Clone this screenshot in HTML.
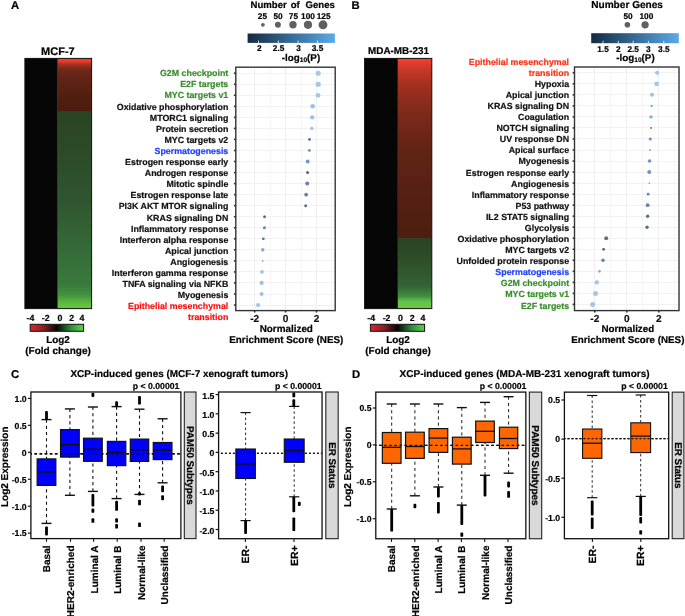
<!DOCTYPE html>
<html><head><meta charset="utf-8"><title>Figure</title>
<style>
html,body{margin:0;padding:0;background:#fff;overflow:hidden;}
svg{display:block;will-change:transform;text-rendering:geometricPrecision;}
text{stroke-width:0.2px;}
svg{font-family:"Liberation Sans", sans-serif;}
</style></head><body>
<svg width="685" height="616" viewBox="0 0 685 616" font-family='&quot;Liberation Sans&quot;, sans-serif'><defs><linearGradient id="hra" x1="0" y1="0" x2="0" y2="1"><stop offset="0" stop-color="#f23c2c"/><stop offset="0.063" stop-color="#e83a2a"/><stop offset="0.095" stop-color="#b83424"/><stop offset="0.15" stop-color="#8e2e1e"/><stop offset="0.23" stop-color="#6e2818"/><stop offset="0.38" stop-color="#602416"/><stop offset="0.67" stop-color="#54200f"/><stop offset="1" stop-color="#4a1c10"/></linearGradient><linearGradient id="hga" x1="0" y1="0" x2="0" y2="1"><stop offset="0" stop-color="#2a4422"/><stop offset="0.2" stop-color="#2c4a26"/><stop offset="0.45" stop-color="#2f5530"/><stop offset="0.7" stop-color="#356a38"/><stop offset="0.88" stop-color="#3a7a3c"/><stop offset="0.93" stop-color="#44903f"/><stop offset="0.96" stop-color="#55b040"/><stop offset="0.98" stop-color="#62c040"/><stop offset="1" stop-color="#6cc444"/></linearGradient><linearGradient id="hrb" x1="0" y1="0" x2="0" y2="1"><stop offset="0" stop-color="#f24030"/><stop offset="0.02" stop-color="#e83c2c"/><stop offset="0.06" stop-color="#c83828"/><stop offset="0.15" stop-color="#a03020"/><stop offset="0.3" stop-color="#7e2a1a"/><stop offset="0.5" stop-color="#622416"/><stop offset="0.75" stop-color="#562014"/><stop offset="1" stop-color="#4c1e10"/></linearGradient><linearGradient id="hgb" x1="0" y1="0" x2="0" y2="1"><stop offset="0" stop-color="#2a4422"/><stop offset="0.31" stop-color="#2e4e28"/><stop offset="0.68" stop-color="#356238"/><stop offset="0.76" stop-color="#3a7a3c"/><stop offset="0.83" stop-color="#44903e"/><stop offset="0.88" stop-color="#58b848"/><stop offset="0.91" stop-color="#64c24a"/><stop offset="1" stop-color="#72c64a"/></linearGradient><linearGradient id="lfc" x1="0" y1="0" x2="1" y2="0"><stop offset="0" stop-color="#e8202c"/><stop offset="0.25" stop-color="#8a2020"/><stop offset="0.5" stop-color="#060606"/><stop offset="0.75" stop-color="#2a8a38"/><stop offset="0.92" stop-color="#48c048"/><stop offset="1" stop-color="#6cc444"/></linearGradient><linearGradient id="lp" x1="0" y1="0" x2="1" y2="0"><stop offset="0" stop-color="#132b43"/><stop offset="1" stop-color="#5aaae8"/></linearGradient></defs><rect width="685" height="616" fill="#fff"/><text x="11" y="8.9" font-size="11.3" text-anchor="start" fill="#000" stroke="#000" font-weight="bold">A</text>
<text x="351.6" y="8.7" font-size="11.3" text-anchor="start" fill="#000" stroke="#000" font-weight="bold">B</text>
<text x="11" y="378" font-size="11.3" text-anchor="start" fill="#000" stroke="#000" font-weight="bold">C</text>
<text x="352" y="378" font-size="11.3" text-anchor="start" fill="#000" stroke="#000" font-weight="bold">D</text>
<rect x="24.9" y="58.4" width="32.9" height="250.2" fill="#060606"/>
<rect x="57.8" y="58.4" width="33.8" height="52.6" fill="url(#hra)"/>
<rect x="57.8" y="111" width="33.8" height="197.6" fill="url(#hga)"/>
<rect x="24.9" y="58.4" width="66.7" height="250.2" fill="none" stroke="#111" stroke-width="1"/>
<rect x="364.6" y="58.4" width="33.3" height="250.2" fill="#060606"/>
<rect x="397.9" y="58.4" width="33.9" height="179.6" fill="url(#hrb)"/>
<rect x="397.9" y="238" width="33.9" height="70.6" fill="url(#hgb)"/>
<rect x="364.6" y="58.4" width="67.2" height="250.2" fill="none" stroke="#111" stroke-width="1"/>
<text x="57.9" y="55" font-size="11" text-anchor="middle" fill="#000" stroke="#000" font-weight="bold">MCF-7</text>
<text x="398.5" y="53.5" font-size="9.9" text-anchor="middle" fill="#000" stroke="#000" font-weight="bold">MDA-MB-231</text>
<rect x="30.2" y="324.3" width="53.4" height="7" fill="url(#lfc)" stroke="#111" stroke-width="1"/>
<text x="26.5" y="320.7" font-size="8.8" text-anchor="start" fill="#000" stroke="#000" font-weight="bold">-4</text>
<text x="41.8" y="320.7" font-size="8.8" text-anchor="start" fill="#000" stroke="#000" font-weight="bold">-2</text>
<text x="57.5" y="320.7" font-size="8.8" text-anchor="start" fill="#000" stroke="#000" font-weight="bold">0</text>
<text x="69.3" y="320.7" font-size="8.8" text-anchor="start" fill="#000" stroke="#000" font-weight="bold">2</text>
<text x="79.5" y="320.7" font-size="8.8" text-anchor="start" fill="#000" stroke="#000" font-weight="bold">4</text>
<text x="58" y="342.8" font-size="9.9" text-anchor="middle" fill="#000" stroke="#000" stroke-width="0.12" font-weight="bold">Log2</text>
<text x="58" y="353.5" font-size="10" text-anchor="middle" fill="#000" stroke="#000" stroke-width="0.12" font-weight="bold">(Fold change)</text>
<rect x="370.4" y="324.3" width="54.2" height="7" fill="url(#lfc)" stroke="#111" stroke-width="1"/>
<text x="367.3" y="320.7" font-size="8.8" text-anchor="start" fill="#000" stroke="#000" font-weight="bold">-4</text>
<text x="382.7" y="320.7" font-size="8.8" text-anchor="start" fill="#000" stroke="#000" font-weight="bold">-2</text>
<text x="397.9" y="320.7" font-size="8.8" text-anchor="start" fill="#000" stroke="#000" font-weight="bold">0</text>
<text x="409.7" y="320.7" font-size="8.8" text-anchor="start" fill="#000" stroke="#000" font-weight="bold">2</text>
<text x="420.6" y="320.7" font-size="8.8" text-anchor="start" fill="#000" stroke="#000" font-weight="bold">4</text>
<text x="398" y="342.8" font-size="9.9" text-anchor="middle" fill="#000" stroke="#000" stroke-width="0.12" font-weight="bold">Log2</text>
<text x="398" y="353.5" font-size="10" text-anchor="middle" fill="#000" stroke="#000" stroke-width="0.12" font-weight="bold">(Fold change)</text>
<rect x="235.8" y="67.2" width="99.4" height="243.4" fill="#fff"/>
<line x1="239.5" y1="67.2" x2="239.5" y2="310.6" stroke="#f6f6f6" stroke-width="1"/>
<line x1="270.5" y1="67.2" x2="270.5" y2="310.6" stroke="#f6f6f6" stroke-width="1"/>
<line x1="301.5" y1="67.2" x2="301.5" y2="310.6" stroke="#f6f6f6" stroke-width="1"/>
<line x1="331.5" y1="67.2" x2="331.5" y2="310.6" stroke="#f6f6f6" stroke-width="1"/>
<line x1="254.5" y1="67.2" x2="254.5" y2="310.6" stroke="#efefef" stroke-width="1"/>
<line x1="285.5" y1="67.2" x2="285.5" y2="310.6" stroke="#efefef" stroke-width="1"/>
<line x1="316.5" y1="67.2" x2="316.5" y2="310.6" stroke="#efefef" stroke-width="1"/>
<line x1="235.8" y1="73.5" x2="335.2" y2="73.5" stroke="#f2f2f2" stroke-width="1"/>
<line x1="235.8" y1="84.5" x2="335.2" y2="84.5" stroke="#f2f2f2" stroke-width="1"/>
<line x1="235.8" y1="95.5" x2="335.2" y2="95.5" stroke="#f2f2f2" stroke-width="1"/>
<line x1="235.8" y1="106.5" x2="335.2" y2="106.5" stroke="#f2f2f2" stroke-width="1"/>
<line x1="235.8" y1="117.5" x2="335.2" y2="117.5" stroke="#f2f2f2" stroke-width="1"/>
<line x1="235.8" y1="128.5" x2="335.2" y2="128.5" stroke="#f2f2f2" stroke-width="1"/>
<line x1="235.8" y1="139.5" x2="335.2" y2="139.5" stroke="#f2f2f2" stroke-width="1"/>
<line x1="235.8" y1="150.5" x2="335.2" y2="150.5" stroke="#f2f2f2" stroke-width="1"/>
<line x1="235.8" y1="161.5" x2="335.2" y2="161.5" stroke="#f2f2f2" stroke-width="1"/>
<line x1="235.8" y1="172.5" x2="335.2" y2="172.5" stroke="#f2f2f2" stroke-width="1"/>
<line x1="235.8" y1="183.5" x2="335.2" y2="183.5" stroke="#f2f2f2" stroke-width="1"/>
<line x1="235.8" y1="194.5" x2="335.2" y2="194.5" stroke="#f2f2f2" stroke-width="1"/>
<line x1="235.8" y1="205.5" x2="335.2" y2="205.5" stroke="#f2f2f2" stroke-width="1"/>
<line x1="235.8" y1="216.5" x2="335.2" y2="216.5" stroke="#f2f2f2" stroke-width="1"/>
<line x1="235.8" y1="227.5" x2="335.2" y2="227.5" stroke="#f2f2f2" stroke-width="1"/>
<line x1="235.8" y1="238.5" x2="335.2" y2="238.5" stroke="#f2f2f2" stroke-width="1"/>
<line x1="235.8" y1="249.5" x2="335.2" y2="249.5" stroke="#f2f2f2" stroke-width="1"/>
<line x1="235.8" y1="260.5" x2="335.2" y2="260.5" stroke="#f2f2f2" stroke-width="1"/>
<line x1="235.8" y1="271.5" x2="335.2" y2="271.5" stroke="#f2f2f2" stroke-width="1"/>
<line x1="235.8" y1="282.5" x2="335.2" y2="282.5" stroke="#f2f2f2" stroke-width="1"/>
<line x1="235.8" y1="294.5" x2="335.2" y2="294.5" stroke="#f2f2f2" stroke-width="1"/>
<line x1="235.8" y1="305.5" x2="335.2" y2="305.5" stroke="#f2f2f2" stroke-width="1"/>
<circle cx="318.2" cy="73.2" r="2.5" fill="#a2c7eb"/>
<circle cx="318.2" cy="84.24" r="2.6" fill="#a2c7eb"/>
<circle cx="318.045" cy="95.28" r="2.4" fill="#a2c7eb"/>
<circle cx="312.638" cy="106.32" r="2.3" fill="#9ac2e9"/>
<circle cx="312.174" cy="117.36" r="2.2" fill="#9ac2e9"/>
<circle cx="311.865" cy="128.4" r="1.7" fill="#9ac2e9"/>
<circle cx="309.548" cy="139.44" r="1.4" fill="#606e88"/>
<circle cx="309.393" cy="150.48" r="1.4" fill="#7494c0"/>
<circle cx="307.694" cy="161.52" r="1.9" fill="#7494c0"/>
<circle cx="307.539" cy="172.56" r="1.5" fill="#56627a"/>
<circle cx="307.23" cy="183.6" r="2" fill="#6a82a8"/>
<circle cx="306.149" cy="194.64" r="1.9" fill="#6a82a8"/>
<circle cx="305.685" cy="205.68" r="1.5" fill="#606e88"/>
<circle cx="264.588" cy="216.72" r="1.5" fill="#606e88"/>
<circle cx="264.434" cy="227.76" r="1.5" fill="#6a82a8"/>
<circle cx="263.352" cy="238.8" r="1.4" fill="#606e88"/>
<circle cx="262.734" cy="249.84" r="1.8" fill="#84acdb"/>
<circle cx="262.734" cy="260.88" r="0.7" fill="#56627a"/>
<circle cx="261.962" cy="271.92" r="1.8" fill="#9ac2e9"/>
<circle cx="261.653" cy="282.96" r="2.1" fill="#9ac2e9"/>
<circle cx="261.653" cy="294" r="1.9" fill="#9ac2e9"/>
<circle cx="258.099" cy="305.04" r="2.1" fill="#a2c7eb"/>
<rect x="235.8" y="67.2" width="99.4" height="243.4" fill="none" stroke="#333" stroke-width="1.4"/>
<line x1="233.9" y1="73.2" x2="235.8" y2="73.2" stroke="#333" stroke-width="1.6"/>
<line x1="233.9" y1="84.24" x2="235.8" y2="84.24" stroke="#333" stroke-width="1.6"/>
<line x1="233.9" y1="95.28" x2="235.8" y2="95.28" stroke="#333" stroke-width="1.6"/>
<line x1="233.9" y1="106.32" x2="235.8" y2="106.32" stroke="#333" stroke-width="1.6"/>
<line x1="233.9" y1="117.36" x2="235.8" y2="117.36" stroke="#333" stroke-width="1.6"/>
<line x1="233.9" y1="128.4" x2="235.8" y2="128.4" stroke="#333" stroke-width="1.6"/>
<line x1="233.9" y1="139.44" x2="235.8" y2="139.44" stroke="#333" stroke-width="1.6"/>
<line x1="233.9" y1="150.48" x2="235.8" y2="150.48" stroke="#333" stroke-width="1.6"/>
<line x1="233.9" y1="161.52" x2="235.8" y2="161.52" stroke="#333" stroke-width="1.6"/>
<line x1="233.9" y1="172.56" x2="235.8" y2="172.56" stroke="#333" stroke-width="1.6"/>
<line x1="233.9" y1="183.6" x2="235.8" y2="183.6" stroke="#333" stroke-width="1.6"/>
<line x1="233.9" y1="194.64" x2="235.8" y2="194.64" stroke="#333" stroke-width="1.6"/>
<line x1="233.9" y1="205.68" x2="235.8" y2="205.68" stroke="#333" stroke-width="1.6"/>
<line x1="233.9" y1="216.72" x2="235.8" y2="216.72" stroke="#333" stroke-width="1.6"/>
<line x1="233.9" y1="227.76" x2="235.8" y2="227.76" stroke="#333" stroke-width="1.6"/>
<line x1="233.9" y1="238.8" x2="235.8" y2="238.8" stroke="#333" stroke-width="1.6"/>
<line x1="233.9" y1="249.84" x2="235.8" y2="249.84" stroke="#333" stroke-width="1.6"/>
<line x1="233.9" y1="260.88" x2="235.8" y2="260.88" stroke="#333" stroke-width="1.6"/>
<line x1="233.9" y1="271.92" x2="235.8" y2="271.92" stroke="#333" stroke-width="1.6"/>
<line x1="233.9" y1="282.96" x2="235.8" y2="282.96" stroke="#333" stroke-width="1.6"/>
<line x1="233.9" y1="294" x2="235.8" y2="294" stroke="#333" stroke-width="1.6"/>
<line x1="233.9" y1="305.04" x2="235.8" y2="305.04" stroke="#333" stroke-width="1.6"/>
<line x1="254.7" y1="310.6" x2="254.7" y2="312.5" stroke="#333" stroke-width="1.6"/>
<text x="254.7" y="322.3" font-size="10.1" text-anchor="middle" fill="#111" stroke="#111" font-weight="bold">-2</text>
<line x1="285.6" y1="310.6" x2="285.6" y2="312.5" stroke="#333" stroke-width="1.6"/>
<text x="285.6" y="322.3" font-size="10.1" text-anchor="middle" fill="#111" stroke="#111" font-weight="bold">0</text>
<line x1="316.5" y1="310.6" x2="316.5" y2="312.5" stroke="#333" stroke-width="1.6"/>
<text x="316.5" y="322.3" font-size="10.1" text-anchor="middle" fill="#111" stroke="#111" font-weight="bold">2</text>
<text x="228.3" y="76.25" font-size="8.85" text-anchor="end" fill="#3a8e2c" stroke="#3a8e2c" font-weight="bold">G2M checkpoint</text>
<text x="228.3" y="87.35" font-size="8.85" text-anchor="end" fill="#3a8e2c" stroke="#3a8e2c" font-weight="bold">E2F targets</text>
<text x="228.3" y="98.45" font-size="8.85" text-anchor="end" fill="#3a8e2c" stroke="#3a8e2c" font-weight="bold">MYC targets v1</text>
<text x="228.3" y="109.55" font-size="8.85" text-anchor="end" fill="#111" stroke="#111" font-weight="bold">Oxidative phosphorylation</text>
<text x="228.3" y="120.65" font-size="8.85" text-anchor="end" fill="#111" stroke="#111" font-weight="bold">MTORC1 signaling</text>
<text x="228.3" y="131.75" font-size="8.85" text-anchor="end" fill="#111" stroke="#111" font-weight="bold">Protein secretion</text>
<text x="228.3" y="142.85" font-size="8.85" text-anchor="end" fill="#111" stroke="#111" font-weight="bold">MYC targets v2</text>
<text x="228.3" y="153.95" font-size="8.85" text-anchor="end" fill="#2040ff" stroke="#2040ff" font-weight="bold">Spermatogenesis</text>
<text x="228.3" y="165.05" font-size="8.85" text-anchor="end" fill="#111" stroke="#111" font-weight="bold">Estrogen response early</text>
<text x="228.3" y="176.15" font-size="8.85" text-anchor="end" fill="#111" stroke="#111" font-weight="bold">Androgen response</text>
<text x="228.3" y="187.25" font-size="8.85" text-anchor="end" fill="#111" stroke="#111" font-weight="bold">Mitotic spindle</text>
<text x="228.3" y="198.35" font-size="8.85" text-anchor="end" fill="#111" stroke="#111" font-weight="bold">Estrogen response late</text>
<text x="228.3" y="209.45" font-size="8.85" text-anchor="end" fill="#111" stroke="#111" font-weight="bold">PI3K AKT MTOR signaling</text>
<text x="228.3" y="220.55" font-size="8.85" text-anchor="end" fill="#111" stroke="#111" font-weight="bold">KRAS signaling DN</text>
<text x="228.3" y="231.65" font-size="8.85" text-anchor="end" fill="#111" stroke="#111" font-weight="bold">Inflammatory response</text>
<text x="228.3" y="242.75" font-size="8.85" text-anchor="end" fill="#111" stroke="#111" font-weight="bold">Interferon alpha response</text>
<text x="228.3" y="253.85" font-size="8.85" text-anchor="end" fill="#111" stroke="#111" font-weight="bold">Apical junction</text>
<text x="228.3" y="264.95" font-size="8.85" text-anchor="end" fill="#111" stroke="#111" font-weight="bold">Angiogenesis</text>
<text x="228.3" y="276.05" font-size="8.85" text-anchor="end" fill="#111" stroke="#111" font-weight="bold">Interferon gamma response</text>
<text x="228.3" y="287.15" font-size="8.85" text-anchor="end" fill="#111" stroke="#111" font-weight="bold">TNFA signaling via NFKB</text>
<text x="228.3" y="298.25" font-size="8.85" text-anchor="end" fill="#111" stroke="#111" font-weight="bold">Myogenesis</text>
<text x="228.3" y="309.35" font-size="8.85" text-anchor="end" fill="#ff1010" stroke="#ff1010" font-weight="bold">Epithelial mesenchymal</text>
<text x="228.3" y="320.45" font-size="8.85" text-anchor="end" fill="#ff1010" stroke="#ff1010" font-weight="bold">transition</text>
<rect x="574.5" y="67" width="104.5" height="243.6" fill="#fff"/>
<line x1="578.5" y1="67" x2="578.5" y2="310.6" stroke="#f6f6f6" stroke-width="1"/>
<line x1="610.5" y1="67" x2="610.5" y2="310.6" stroke="#f6f6f6" stroke-width="1"/>
<line x1="642.5" y1="67" x2="642.5" y2="310.6" stroke="#f6f6f6" stroke-width="1"/>
<line x1="674.5" y1="67" x2="674.5" y2="310.6" stroke="#f6f6f6" stroke-width="1"/>
<line x1="594.5" y1="67" x2="594.5" y2="310.6" stroke="#efefef" stroke-width="1"/>
<line x1="626.5" y1="67" x2="626.5" y2="310.6" stroke="#efefef" stroke-width="1"/>
<line x1="658.5" y1="67" x2="658.5" y2="310.6" stroke="#efefef" stroke-width="1"/>
<line x1="574.5" y1="72.5" x2="679" y2="72.5" stroke="#f2f2f2" stroke-width="1"/>
<line x1="574.5" y1="83.5" x2="679" y2="83.5" stroke="#f2f2f2" stroke-width="1"/>
<line x1="574.5" y1="94.5" x2="679" y2="94.5" stroke="#f2f2f2" stroke-width="1"/>
<line x1="574.5" y1="105.5" x2="679" y2="105.5" stroke="#f2f2f2" stroke-width="1"/>
<line x1="574.5" y1="116.5" x2="679" y2="116.5" stroke="#f2f2f2" stroke-width="1"/>
<line x1="574.5" y1="127.5" x2="679" y2="127.5" stroke="#f2f2f2" stroke-width="1"/>
<line x1="574.5" y1="138.5" x2="679" y2="138.5" stroke="#f2f2f2" stroke-width="1"/>
<line x1="574.5" y1="150.5" x2="679" y2="150.5" stroke="#f2f2f2" stroke-width="1"/>
<line x1="574.5" y1="161.5" x2="679" y2="161.5" stroke="#f2f2f2" stroke-width="1"/>
<line x1="574.5" y1="172.5" x2="679" y2="172.5" stroke="#f2f2f2" stroke-width="1"/>
<line x1="574.5" y1="183.5" x2="679" y2="183.5" stroke="#f2f2f2" stroke-width="1"/>
<line x1="574.5" y1="194.5" x2="679" y2="194.5" stroke="#f2f2f2" stroke-width="1"/>
<line x1="574.5" y1="205.5" x2="679" y2="205.5" stroke="#f2f2f2" stroke-width="1"/>
<line x1="574.5" y1="216.5" x2="679" y2="216.5" stroke="#f2f2f2" stroke-width="1"/>
<line x1="574.5" y1="227.5" x2="679" y2="227.5" stroke="#f2f2f2" stroke-width="1"/>
<line x1="574.5" y1="238.5" x2="679" y2="238.5" stroke="#f2f2f2" stroke-width="1"/>
<line x1="574.5" y1="249.5" x2="679" y2="249.5" stroke="#f2f2f2" stroke-width="1"/>
<line x1="574.5" y1="260.5" x2="679" y2="260.5" stroke="#f2f2f2" stroke-width="1"/>
<line x1="574.5" y1="271.5" x2="679" y2="271.5" stroke="#f2f2f2" stroke-width="1"/>
<line x1="574.5" y1="282.5" x2="679" y2="282.5" stroke="#f2f2f2" stroke-width="1"/>
<line x1="574.5" y1="293.5" x2="679" y2="293.5" stroke="#f2f2f2" stroke-width="1"/>
<line x1="574.5" y1="304.5" x2="679" y2="304.5" stroke="#f2f2f2" stroke-width="1"/>
<circle cx="657.051" cy="72.8" r="2.1" fill="#a2c7eb"/>
<circle cx="656.574" cy="83.83" r="2.4" fill="#a2c7eb"/>
<circle cx="651.963" cy="94.86" r="2" fill="#9ac2e9"/>
<circle cx="651.645" cy="105.89" r="1.2" fill="#84acdb"/>
<circle cx="651.009" cy="116.92" r="1.7" fill="#84acdb"/>
<circle cx="651.009" cy="127.95" r="0.9" fill="#56627a"/>
<circle cx="650.214" cy="138.98" r="1.6" fill="#7494c0"/>
<circle cx="650.055" cy="150.01" r="0.8" fill="#56627a"/>
<circle cx="649.578" cy="161.04" r="1.8" fill="#7494c0"/>
<circle cx="649.26" cy="172.07" r="2" fill="#7494c0"/>
<circle cx="649.26" cy="183.1" r="0.7" fill="#56627a"/>
<circle cx="648.147" cy="194.13" r="1.4" fill="#6a82a8"/>
<circle cx="647.67" cy="205.16" r="1.9" fill="#6a82a8"/>
<circle cx="647.67" cy="216.19" r="1.7" fill="#606e88"/>
<circle cx="647.034" cy="227.22" r="1.7" fill="#606e88"/>
<circle cx="606.171" cy="238.25" r="2" fill="#606e88"/>
<circle cx="603.627" cy="249.28" r="1.4" fill="#56627a"/>
<circle cx="602.991" cy="260.31" r="1.8" fill="#6a82a8"/>
<circle cx="599.493" cy="271.34" r="1.3" fill="#84acdb"/>
<circle cx="596.79" cy="282.37" r="2.2" fill="#a2c7eb"/>
<circle cx="595.518" cy="293.4" r="2.5" fill="#a2c7eb"/>
<circle cx="592.656" cy="304.43" r="2.5" fill="#a2c7eb"/>
<rect x="574.5" y="67" width="104.5" height="243.6" fill="none" stroke="#333" stroke-width="1.4"/>
<line x1="572.6" y1="72.8" x2="574.5" y2="72.8" stroke="#333" stroke-width="1.6"/>
<line x1="572.6" y1="83.83" x2="574.5" y2="83.83" stroke="#333" stroke-width="1.6"/>
<line x1="572.6" y1="94.86" x2="574.5" y2="94.86" stroke="#333" stroke-width="1.6"/>
<line x1="572.6" y1="105.89" x2="574.5" y2="105.89" stroke="#333" stroke-width="1.6"/>
<line x1="572.6" y1="116.92" x2="574.5" y2="116.92" stroke="#333" stroke-width="1.6"/>
<line x1="572.6" y1="127.95" x2="574.5" y2="127.95" stroke="#333" stroke-width="1.6"/>
<line x1="572.6" y1="138.98" x2="574.5" y2="138.98" stroke="#333" stroke-width="1.6"/>
<line x1="572.6" y1="150.01" x2="574.5" y2="150.01" stroke="#333" stroke-width="1.6"/>
<line x1="572.6" y1="161.04" x2="574.5" y2="161.04" stroke="#333" stroke-width="1.6"/>
<line x1="572.6" y1="172.07" x2="574.5" y2="172.07" stroke="#333" stroke-width="1.6"/>
<line x1="572.6" y1="183.1" x2="574.5" y2="183.1" stroke="#333" stroke-width="1.6"/>
<line x1="572.6" y1="194.13" x2="574.5" y2="194.13" stroke="#333" stroke-width="1.6"/>
<line x1="572.6" y1="205.16" x2="574.5" y2="205.16" stroke="#333" stroke-width="1.6"/>
<line x1="572.6" y1="216.19" x2="574.5" y2="216.19" stroke="#333" stroke-width="1.6"/>
<line x1="572.6" y1="227.22" x2="574.5" y2="227.22" stroke="#333" stroke-width="1.6"/>
<line x1="572.6" y1="238.25" x2="574.5" y2="238.25" stroke="#333" stroke-width="1.6"/>
<line x1="572.6" y1="249.28" x2="574.5" y2="249.28" stroke="#333" stroke-width="1.6"/>
<line x1="572.6" y1="260.31" x2="574.5" y2="260.31" stroke="#333" stroke-width="1.6"/>
<line x1="572.6" y1="271.34" x2="574.5" y2="271.34" stroke="#333" stroke-width="1.6"/>
<line x1="572.6" y1="282.37" x2="574.5" y2="282.37" stroke="#333" stroke-width="1.6"/>
<line x1="572.6" y1="293.4" x2="574.5" y2="293.4" stroke="#333" stroke-width="1.6"/>
<line x1="572.6" y1="304.43" x2="574.5" y2="304.43" stroke="#333" stroke-width="1.6"/>
<line x1="594.8" y1="310.6" x2="594.8" y2="312.5" stroke="#333" stroke-width="1.6"/>
<text x="594.8" y="322.3" font-size="10.1" text-anchor="middle" fill="#111" stroke="#111" font-weight="bold">-2</text>
<line x1="626.8" y1="310.6" x2="626.8" y2="312.5" stroke="#333" stroke-width="1.6"/>
<text x="626.8" y="322.3" font-size="10.1" text-anchor="middle" fill="#111" stroke="#111" font-weight="bold">0</text>
<line x1="658.8" y1="310.6" x2="658.8" y2="312.5" stroke="#333" stroke-width="1.6"/>
<text x="658.8" y="322.3" font-size="10.1" text-anchor="middle" fill="#111" stroke="#111" font-weight="bold">2</text>
<text x="569.1" y="64.85" font-size="8.85" text-anchor="end" fill="#ff3318" stroke="#ff3318" font-weight="bold">Epithelial mesenchymal</text>
<text x="569.1" y="75.85" font-size="8.85" text-anchor="end" fill="#ff3318" stroke="#ff3318" font-weight="bold">transition</text>
<text x="569.1" y="86.93" font-size="8.85" text-anchor="end" fill="#111" stroke="#111" font-weight="bold">Hypoxia</text>
<text x="569.1" y="98.01" font-size="8.85" text-anchor="end" fill="#111" stroke="#111" font-weight="bold">Apical junction</text>
<text x="569.1" y="109.09" font-size="8.85" text-anchor="end" fill="#111" stroke="#111" font-weight="bold">KRAS signaling DN</text>
<text x="569.1" y="120.17" font-size="8.85" text-anchor="end" fill="#111" stroke="#111" font-weight="bold">Coagulation</text>
<text x="569.1" y="131.25" font-size="8.85" text-anchor="end" fill="#111" stroke="#111" font-weight="bold">NOTCH signaling</text>
<text x="569.1" y="142.33" font-size="8.85" text-anchor="end" fill="#111" stroke="#111" font-weight="bold">UV response DN</text>
<text x="569.1" y="153.41" font-size="8.85" text-anchor="end" fill="#111" stroke="#111" font-weight="bold">Apical surface</text>
<text x="569.1" y="164.49" font-size="8.85" text-anchor="end" fill="#111" stroke="#111" font-weight="bold">Myogenesis</text>
<text x="569.1" y="175.57" font-size="8.85" text-anchor="end" fill="#111" stroke="#111" font-weight="bold">Estrogen response early</text>
<text x="569.1" y="186.65" font-size="8.85" text-anchor="end" fill="#111" stroke="#111" font-weight="bold">Angiogenesis</text>
<text x="569.1" y="197.73" font-size="8.85" text-anchor="end" fill="#111" stroke="#111" font-weight="bold">Inflammatory response</text>
<text x="569.1" y="208.81" font-size="8.85" text-anchor="end" fill="#111" stroke="#111" font-weight="bold">P53 pathway</text>
<text x="569.1" y="219.89" font-size="8.85" text-anchor="end" fill="#111" stroke="#111" font-weight="bold">IL2 STAT5 signaling</text>
<text x="569.1" y="230.97" font-size="8.85" text-anchor="end" fill="#111" stroke="#111" font-weight="bold">Glycolysis</text>
<text x="569.1" y="242.05" font-size="8.85" text-anchor="end" fill="#111" stroke="#111" font-weight="bold">Oxidative phosphorylation</text>
<text x="569.1" y="253.13" font-size="8.85" text-anchor="end" fill="#111" stroke="#111" font-weight="bold">MYC targets v2</text>
<text x="569.1" y="264.21" font-size="8.85" text-anchor="end" fill="#111" stroke="#111" font-weight="bold">Unfolded protein response</text>
<text x="569.1" y="275.29" font-size="8.85" text-anchor="end" fill="#2040ff" stroke="#2040ff" font-weight="bold">Spermatogenesis</text>
<text x="569.1" y="286.37" font-size="8.85" text-anchor="end" fill="#3a8e2c" stroke="#3a8e2c" font-weight="bold">G2M checkpoint</text>
<text x="569.1" y="297.45" font-size="8.85" text-anchor="end" fill="#3a8e2c" stroke="#3a8e2c" font-weight="bold">MYC targets v1</text>
<text x="569.1" y="308.53" font-size="8.85" text-anchor="end" fill="#3a8e2c" stroke="#3a8e2c" font-weight="bold">E2F targets</text>
<text x="286.3" y="331.6" font-size="9.9" text-anchor="middle" fill="#000" stroke="#000" font-weight="bold">Normalized</text>
<text x="286.3" y="342.8" font-size="9.9" text-anchor="middle" fill="#000" stroke="#000" font-weight="bold">Enrichment Score (NES)</text>
<text x="627.8" y="331.6" font-size="9.8" text-anchor="middle" fill="#000" stroke="#000" font-weight="bold">Normalized</text>
<text x="627.8" y="342.8" font-size="9.8" text-anchor="middle" fill="#000" stroke="#000" font-weight="bold">Enrichment Score (NES)</text>
<text x="250.5" y="8.3" font-size="9.6" text-anchor="start" fill="#000" stroke="#000" font-weight="bold">Number</text>
<text x="290.7" y="8.3" font-size="9.6" text-anchor="start" fill="#000" stroke="#000" font-weight="bold">of</text>
<text x="305.5" y="8.3" font-size="9.6" text-anchor="start" fill="#000" stroke="#000" font-weight="bold">Genes</text>
<text x="262.4" y="18.6" font-size="8.3" text-anchor="middle" fill="#000" stroke="#000" font-weight="bold">25</text>
<text x="278" y="18.6" font-size="8.3" text-anchor="middle" fill="#000" stroke="#000" font-weight="bold">50</text>
<text x="293.4" y="18.6" font-size="8.3" text-anchor="middle" fill="#000" stroke="#000" font-weight="bold">75</text>
<text x="308" y="18.6" font-size="8.3" text-anchor="middle" fill="#000" stroke="#000" font-weight="bold">100</text>
<text x="323.6" y="18.6" font-size="8.3" text-anchor="middle" fill="#000" stroke="#000" font-weight="bold">125</text>
<circle cx="262.9" cy="24.8" r="1.9" fill="#606060"/>
<circle cx="277.9" cy="24.8" r="2.95" fill="#606060"/>
<circle cx="293" cy="24.8" r="3.7" fill="#606060"/>
<circle cx="308" cy="24.8" r="4.1" fill="#606060"/>
<circle cx="323" cy="24.8" r="4.45" fill="#606060"/>
<rect x="247.6" y="33.5" width="87.3" height="9.4" fill="url(#lp)"/>
<line x1="258.5" y1="40.6" x2="258.5" y2="42.9" stroke="#fff" stroke-width="0.8"/>
<line x1="278.4" y1="40.6" x2="278.4" y2="42.9" stroke="#fff" stroke-width="0.8"/>
<line x1="298.1" y1="40.6" x2="298.1" y2="42.9" stroke="#fff" stroke-width="0.8"/>
<line x1="317.4" y1="40.6" x2="317.4" y2="42.9" stroke="#fff" stroke-width="0.8"/>
<text x="259.2" y="51.1" font-size="8.3" text-anchor="middle" fill="#000" stroke="#000" font-weight="bold">2</text>
<text x="278.6" y="51.1" font-size="8.3" text-anchor="middle" fill="#000" stroke="#000" font-weight="bold">2.5</text>
<text x="298.6" y="51.1" font-size="8.3" text-anchor="middle" fill="#000" stroke="#000" font-weight="bold">3</text>
<text x="317.5" y="51.1" font-size="8.3" text-anchor="middle" fill="#000" stroke="#000" font-weight="bold">3.5</text>
<text x="627.1" y="8.2" font-size="10.1" text-anchor="middle" fill="#000" stroke="#000" font-weight="bold">Number Genes</text>
<text x="628" y="18.6" font-size="8.3" text-anchor="middle" fill="#000" stroke="#000" font-weight="bold">50</text>
<text x="646.4" y="18.6" font-size="8.3" text-anchor="middle" fill="#000" stroke="#000" font-weight="bold">100</text>
<circle cx="627.4" cy="24.8" r="2.8" fill="#606060"/>
<circle cx="645.1" cy="24.8" r="3.65" fill="#606060"/>
<rect x="591.2" y="33.2" width="87.6" height="10" fill="url(#lp)"/>
<line x1="603" y1="40.8" x2="603" y2="43.2" stroke="#fff" stroke-width="0.8"/>
<line x1="618.3" y1="40.8" x2="618.3" y2="43.2" stroke="#fff" stroke-width="0.8"/>
<line x1="633.2" y1="40.8" x2="633.2" y2="43.2" stroke="#fff" stroke-width="0.8"/>
<line x1="648.4" y1="40.8" x2="648.4" y2="43.2" stroke="#fff" stroke-width="0.8"/>
<line x1="663.8" y1="40.8" x2="663.8" y2="43.2" stroke="#fff" stroke-width="0.8"/>
<text x="603" y="52.2" font-size="8.3" text-anchor="middle" fill="#000" stroke="#000" font-weight="bold">1.5</text>
<text x="618.3" y="52.2" font-size="8.3" text-anchor="middle" fill="#000" stroke="#000" font-weight="bold">2</text>
<text x="633.2" y="52.2" font-size="8.3" text-anchor="middle" fill="#000" stroke="#000" font-weight="bold">2.5</text>
<text x="648.4" y="52.2" font-size="8.3" text-anchor="middle" fill="#000" stroke="#000" font-weight="bold">3</text>
<text x="663.8" y="52.2" font-size="8.3" text-anchor="middle" fill="#000" stroke="#000" font-weight="bold">3.5</text>
<text x="281.8" y="60.7" font-size="9.8" font-weight="bold" fill="#000" stroke="#000">-log<tspan font-size="6.6" dy="1.3">10</tspan><tspan dy="-1.3">(P)</tspan></text>
<text x="616.3" y="61" font-size="9.8" font-weight="bold" fill="#000" stroke="#000">-log<tspan font-size="6.6" dy="1.3">10</tspan><tspan dy="-1.3">(P)</tspan></text>
<text x="179.2" y="377.2" font-size="9.95" text-anchor="middle" fill="#000" stroke="#000" font-weight="bold">XCP-induced genes (MCF-7 xenograft tumors)</text>
<text x="179.4" y="389.2" font-size="8.7" text-anchor="end" fill="#000" stroke="#000" stroke-width="0.1" font-weight="bold">p &lt; 0.00001</text>
<text x="321.6" y="389.2" font-size="8.7" text-anchor="end" fill="#000" stroke="#000" stroke-width="0.1" font-weight="bold">p &lt; 0.00001</text>
<rect x="30.9" y="392" width="150" height="146.6" fill="#fff"/>
<line x1="30.9" y1="453.8" x2="180.9" y2="453.8" stroke="#111" stroke-width="1.5" stroke-dasharray="2.55 2.55" stroke-dashoffset="1.5"/>
<line x1="46.5" y1="419.6" x2="46.5" y2="458.9" stroke="#111" stroke-width="1.1" stroke-dasharray="3.1 3.1"/>
<line x1="46.5" y1="523.4" x2="46.5" y2="485.4" stroke="#111" stroke-width="1.1" stroke-dasharray="3.1 3.1"/>
<line x1="41.5" y1="419.6" x2="51.5" y2="419.6" stroke="#111" stroke-width="1.4"/>
<line x1="41.5" y1="523.4" x2="51.5" y2="523.4" stroke="#111" stroke-width="1.4"/>
<rect x="37.15" y="458.9" width="18.7" height="26.5" fill="#0000ff" stroke="#111" stroke-width="1.2"/>
<line x1="37.15" y1="471.9" x2="55.85" y2="471.9" stroke="#111" stroke-width="1.6"/>
<rect x="45.1" y="411" width="2.8" height="8.6" fill="#000" rx="0.9"/>
<rect x="45.1" y="526.6" width="2.8" height="8.8" fill="#000" rx="0.9"/>
<line x1="69.9" y1="408.9" x2="69.9" y2="429.6" stroke="#111" stroke-width="1.1" stroke-dasharray="3.1 3.1"/>
<line x1="69.9" y1="495.3" x2="69.9" y2="457.1" stroke="#111" stroke-width="1.1" stroke-dasharray="3.1 3.1"/>
<line x1="64.9" y1="408.9" x2="74.9" y2="408.9" stroke="#111" stroke-width="1.4"/>
<line x1="64.9" y1="495.3" x2="74.9" y2="495.3" stroke="#111" stroke-width="1.4"/>
<rect x="60.55" y="429.6" width="18.7" height="27.5" fill="#0000ff" stroke="#111" stroke-width="1.2"/>
<line x1="60.55" y1="444.7" x2="79.25" y2="444.7" stroke="#111" stroke-width="1.6"/>
<line x1="92.9" y1="407" x2="92.9" y2="438.2" stroke="#111" stroke-width="1.1" stroke-dasharray="3.1 3.1"/>
<line x1="92.9" y1="491.4" x2="92.9" y2="461.3" stroke="#111" stroke-width="1.1" stroke-dasharray="3.1 3.1"/>
<line x1="87.9" y1="407" x2="97.9" y2="407" stroke="#111" stroke-width="1.4"/>
<line x1="87.9" y1="491.4" x2="97.9" y2="491.4" stroke="#111" stroke-width="1.4"/>
<rect x="83.55" y="438.2" width="18.7" height="23.1" fill="#0000ff" stroke="#111" stroke-width="1.2"/>
<line x1="83.55" y1="449.3" x2="102.25" y2="449.3" stroke="#111" stroke-width="1.6"/>
<rect x="91.5" y="392.8" width="2.8" height="4.2" fill="#000" rx="0.9"/>
<rect x="91.5" y="494" width="2.8" height="12.4" fill="#000" rx="0.9"/>
<rect x="91.5" y="508.5" width="2.8" height="4.3" fill="#000" rx="0.9"/>
<rect x="91.5" y="518.3" width="2.8" height="4.5" fill="#000" rx="0.9"/>
<line x1="116.6" y1="406.6" x2="116.6" y2="441.4" stroke="#111" stroke-width="1.1" stroke-dasharray="3.1 3.1"/>
<line x1="116.6" y1="498.6" x2="116.6" y2="465.6" stroke="#111" stroke-width="1.1" stroke-dasharray="3.1 3.1"/>
<line x1="111.6" y1="406.6" x2="121.6" y2="406.6" stroke="#111" stroke-width="1.4"/>
<line x1="111.6" y1="498.6" x2="121.6" y2="498.6" stroke="#111" stroke-width="1.4"/>
<rect x="107.4" y="441.4" width="18.4" height="24.2" fill="#0000ff" stroke="#111" stroke-width="1.2"/>
<line x1="107.4" y1="452.1" x2="125.8" y2="452.1" stroke="#111" stroke-width="1.6"/>
<rect x="115.2" y="401.3" width="2.8" height="5.3" fill="#000" rx="0.9"/>
<rect x="115.2" y="500.8" width="2.8" height="10" fill="#000" rx="0.9"/>
<rect x="115.2" y="518.3" width="2.8" height="4.3" fill="#000" rx="0.9"/>
<rect x="115.2" y="524" width="2.8" height="4.6" fill="#000" rx="0.9"/>
<line x1="139.5" y1="409.2" x2="139.5" y2="439.1" stroke="#111" stroke-width="1.1" stroke-dasharray="3.1 3.1"/>
<line x1="139.5" y1="494.4" x2="139.5" y2="461.4" stroke="#111" stroke-width="1.1" stroke-dasharray="3.1 3.1"/>
<line x1="134.5" y1="409.2" x2="144.5" y2="409.2" stroke="#111" stroke-width="1.4"/>
<line x1="134.5" y1="494.4" x2="144.5" y2="494.4" stroke="#111" stroke-width="1.4"/>
<rect x="130.3" y="439.1" width="18.4" height="22.3" fill="#0000ff" stroke="#111" stroke-width="1.2"/>
<line x1="130.3" y1="449.8" x2="148.7" y2="449.8" stroke="#111" stroke-width="1.6"/>
<rect x="138.1" y="396" width="2.8" height="8.6" fill="#000" rx="0.9"/>
<rect x="138.1" y="492.3" width="2.8" height="3.2" fill="#000" rx="0.9"/>
<rect x="138.1" y="499.7" width="2.8" height="5.6" fill="#000" rx="0.9"/>
<rect x="138.1" y="522.4" width="2.8" height="4.7" fill="#000" rx="0.9"/>
<line x1="162.6" y1="418.8" x2="162.6" y2="442.5" stroke="#111" stroke-width="1.1" stroke-dasharray="3.1 3.1"/>
<line x1="162.6" y1="482.8" x2="162.6" y2="459.6" stroke="#111" stroke-width="1.1" stroke-dasharray="3.1 3.1"/>
<line x1="157.6" y1="418.8" x2="167.6" y2="418.8" stroke="#111" stroke-width="1.4"/>
<line x1="157.6" y1="482.8" x2="167.6" y2="482.8" stroke="#111" stroke-width="1.4"/>
<rect x="153.25" y="442.5" width="18.7" height="17.1" fill="#0000ff" stroke="#111" stroke-width="1.2"/>
<line x1="153.25" y1="450" x2="171.95" y2="450" stroke="#111" stroke-width="1.6"/>
<rect x="161.2" y="485.5" width="2.8" height="6.7" fill="#000" rx="0.9"/>
<rect x="161.2" y="495.3" width="2.8" height="4.9" fill="#000" rx="0.9"/>
<line x1="30.9" y1="453.8" x2="180.9" y2="453.8" stroke="#111" stroke-width="1.5" stroke-dasharray="2.55 2.55" stroke-dashoffset="1.5"/>
<rect x="30.9" y="392" width="150" height="146.6" fill="none" stroke="#111" stroke-width="1.3"/>
<line x1="27.9" y1="398.42" x2="30.9" y2="398.42" stroke="#111" stroke-width="1.2"/>
<text x="26.7" y="401.77" font-size="8.7" text-anchor="end" fill="#000" stroke="#000" stroke-width="0.1" font-weight="bold">1.0</text>
<line x1="27.9" y1="425.36" x2="30.9" y2="425.36" stroke="#111" stroke-width="1.2"/>
<text x="26.7" y="428.71" font-size="8.7" text-anchor="end" fill="#000" stroke="#000" stroke-width="0.1" font-weight="bold">0.5</text>
<line x1="27.9" y1="452.3" x2="30.9" y2="452.3" stroke="#111" stroke-width="1.2"/>
<text x="26.7" y="455.65" font-size="8.7" text-anchor="end" fill="#000" stroke="#000" stroke-width="0.1" font-weight="bold">0</text>
<line x1="27.9" y1="479.24" x2="30.9" y2="479.24" stroke="#111" stroke-width="1.2"/>
<text x="26.7" y="482.59" font-size="8.7" text-anchor="end" fill="#000" stroke="#000" stroke-width="0.1" font-weight="bold">-0.5</text>
<line x1="27.9" y1="506.18" x2="30.9" y2="506.18" stroke="#111" stroke-width="1.2"/>
<text x="26.7" y="509.53" font-size="8.7" text-anchor="end" fill="#000" stroke="#000" stroke-width="0.1" font-weight="bold">-1.0</text>
<line x1="27.9" y1="533.12" x2="30.9" y2="533.12" stroke="#111" stroke-width="1.2"/>
<text x="26.7" y="536.47" font-size="8.7" text-anchor="end" fill="#000" stroke="#000" stroke-width="0.1" font-weight="bold">-1.5</text>
<line x1="46.5" y1="538.6" x2="46.5" y2="541.8" stroke="#111" stroke-width="1.1"/>
<text x="50.4" y="545.5" font-size="10" text-anchor="end" fill="#000" stroke="#000" stroke-width="0.12" font-weight="bold" transform="rotate(-90 50.4 545.5)">Basal</text>
<line x1="70.5" y1="538.6" x2="70.5" y2="541.8" stroke="#111" stroke-width="1.1"/>
<text x="74.4" y="545.5" font-size="10" text-anchor="end" fill="#000" stroke="#000" stroke-width="0.12" font-weight="bold" transform="rotate(-90 74.4 545.5)">HER2-enriched</text>
<line x1="93.6" y1="538.6" x2="93.6" y2="541.8" stroke="#111" stroke-width="1.1"/>
<text x="97.5" y="545.5" font-size="10" text-anchor="end" fill="#000" stroke="#000" stroke-width="0.12" font-weight="bold" transform="rotate(-90 97.5 545.5)">Luminal A</text>
<line x1="117.2" y1="538.6" x2="117.2" y2="541.8" stroke="#111" stroke-width="1.1"/>
<text x="121.1" y="545.5" font-size="10" text-anchor="end" fill="#000" stroke="#000" stroke-width="0.12" font-weight="bold" transform="rotate(-90 121.1 545.5)">Luminal B</text>
<line x1="141" y1="538.6" x2="141" y2="541.8" stroke="#111" stroke-width="1.1"/>
<text x="144.9" y="545.5" font-size="10" text-anchor="end" fill="#000" stroke="#000" stroke-width="0.12" font-weight="bold" transform="rotate(-90 144.9 545.5)">Normal-like</text>
<line x1="164.2" y1="538.6" x2="164.2" y2="541.8" stroke="#111" stroke-width="1.1"/>
<text x="168.1" y="545.5" font-size="10" text-anchor="end" fill="#000" stroke="#000" stroke-width="0.12" font-weight="bold" transform="rotate(-90 168.1 545.5)">Unclassified</text>
<rect x="184.3" y="392" width="11.7" height="146.6" fill="#d9d9d9" stroke="#222" stroke-width="1.1"/>
<text x="186.75" y="465.3" font-size="9.8" text-anchor="middle" fill="#000" stroke="#000" stroke-width="0.12" font-weight="bold" transform="rotate(90 186.75 465.3)">PAM50 Subtypes</text>
<text x="7.6" y="466.8" font-size="10" text-anchor="middle" fill="#000" stroke="#000" stroke-width="0.12" font-weight="bold" transform="rotate(-90 7.6 466.8)">Log2 Expression</text>
<rect x="218.6" y="392" width="103.45" height="146.7" fill="#fff"/>
<line x1="218.6" y1="453.3" x2="322.05" y2="453.3" stroke="#111" stroke-width="1.05" stroke-dasharray="2 2" stroke-dashoffset="1.7"/>
<line x1="245.6" y1="412.6" x2="245.6" y2="449" stroke="#111" stroke-width="0.9" stroke-dasharray="2.5 2.5"/>
<line x1="245.6" y1="520.6" x2="245.6" y2="478.5" stroke="#111" stroke-width="0.9" stroke-dasharray="2.5 2.5"/>
<line x1="240.5" y1="412.6" x2="250.7" y2="412.6" stroke="#111" stroke-width="1.2"/>
<line x1="240.5" y1="520.6" x2="250.7" y2="520.6" stroke="#111" stroke-width="1.2"/>
<rect x="235.85" y="449" width="19.5" height="29.5" fill="#0000ff" stroke="#111" stroke-width="1.1"/>
<line x1="235.85" y1="464" x2="255.35" y2="464" stroke="#111" stroke-width="1.3"/>
<rect x="244.2" y="520" width="2.8" height="14" fill="#000" rx="0.9"/>
<line x1="294.2" y1="406.4" x2="294.2" y2="439" stroke="#111" stroke-width="0.9" stroke-dasharray="2.5 2.5"/>
<line x1="294.2" y1="496.8" x2="294.2" y2="462.3" stroke="#111" stroke-width="0.9" stroke-dasharray="2.5 2.5"/>
<line x1="289.1" y1="406.4" x2="299.3" y2="406.4" stroke="#111" stroke-width="1.2"/>
<line x1="289.1" y1="496.8" x2="299.3" y2="496.8" stroke="#111" stroke-width="1.2"/>
<rect x="284.25" y="439" width="19.9" height="23.3" fill="#0000ff" stroke="#111" stroke-width="1.1"/>
<line x1="284.25" y1="450.7" x2="304.15" y2="450.7" stroke="#111" stroke-width="1.3"/>
<rect x="292.4" y="392.6" width="2.8" height="4.7" fill="#000" rx="0.9"/>
<rect x="292.4" y="399.2" width="2.8" height="7.4" fill="#000" rx="0.9"/>
<rect x="292.4" y="496.8" width="2.8" height="15.4" fill="#000" rx="0.9"/>
<rect x="292.4" y="517.4" width="2.8" height="13.7" fill="#000" rx="0.9"/>
<line x1="218.6" y1="453.3" x2="322.05" y2="453.3" stroke="#111" stroke-width="1.05" stroke-dasharray="2 2" stroke-dashoffset="1.7"/>
<rect x="218.6" y="392" width="103.45" height="146.7" fill="none" stroke="#111" stroke-width="1.3"/>
<line x1="215.6" y1="394.56" x2="218.6" y2="394.56" stroke="#111" stroke-width="1.2"/>
<text x="214.4" y="398.61" font-size="8.7" text-anchor="end" fill="#000" stroke="#000" stroke-width="0.1" font-weight="bold">1.5</text>
<line x1="215.6" y1="413.84" x2="218.6" y2="413.84" stroke="#111" stroke-width="1.2"/>
<text x="214.4" y="417.89" font-size="8.7" text-anchor="end" fill="#000" stroke="#000" stroke-width="0.1" font-weight="bold">1.0</text>
<line x1="215.6" y1="433.12" x2="218.6" y2="433.12" stroke="#111" stroke-width="1.2"/>
<text x="214.4" y="437.17" font-size="8.7" text-anchor="end" fill="#000" stroke="#000" stroke-width="0.1" font-weight="bold">0.5</text>
<line x1="215.6" y1="452.4" x2="218.6" y2="452.4" stroke="#111" stroke-width="1.2"/>
<text x="214.4" y="456.45" font-size="8.7" text-anchor="end" fill="#000" stroke="#000" stroke-width="0.1" font-weight="bold">0</text>
<line x1="215.6" y1="471.68" x2="218.6" y2="471.68" stroke="#111" stroke-width="1.2"/>
<text x="214.4" y="475.73" font-size="8.7" text-anchor="end" fill="#000" stroke="#000" stroke-width="0.1" font-weight="bold">-0.5</text>
<line x1="215.6" y1="490.96" x2="218.6" y2="490.96" stroke="#111" stroke-width="1.2"/>
<text x="214.4" y="495.01" font-size="8.7" text-anchor="end" fill="#000" stroke="#000" stroke-width="0.1" font-weight="bold">-1.0</text>
<line x1="215.6" y1="510.24" x2="218.6" y2="510.24" stroke="#111" stroke-width="1.2"/>
<text x="214.4" y="514.29" font-size="8.7" text-anchor="end" fill="#000" stroke="#000" stroke-width="0.1" font-weight="bold">-1.5</text>
<line x1="215.6" y1="529.52" x2="218.6" y2="529.52" stroke="#111" stroke-width="1.2"/>
<text x="214.4" y="533.57" font-size="8.7" text-anchor="end" fill="#000" stroke="#000" stroke-width="0.1" font-weight="bold">-2.0</text>
<line x1="245.4" y1="538.7" x2="245.4" y2="541.9" stroke="#111" stroke-width="1.1"/>
<text x="248.9" y="545.5" font-size="10.4" text-anchor="end" fill="#000" stroke="#000" stroke-width="0.12" font-weight="bold" transform="rotate(-90 248.9 545.5)">ER-</text>
<line x1="294" y1="538.7" x2="294" y2="541.9" stroke="#111" stroke-width="1.1"/>
<text x="297.5" y="545.5" font-size="10.4" text-anchor="end" fill="#000" stroke="#000" stroke-width="0.12" font-weight="bold" transform="rotate(-90 297.5 545.5)">ER+</text>
<rect x="325.8" y="392" width="12.4" height="146.7" fill="#d9d9d9" stroke="#222" stroke-width="1.1"/>
<text x="328.6" y="465.35" font-size="9.8" text-anchor="middle" fill="#000" stroke="#000" stroke-width="0.12" font-weight="bold" transform="rotate(90 328.6 465.35)">ER Status</text>
<rect x="297.9" y="501.8" width="2.8" height="4.2" fill="#000" rx="0.9"/>
<text x="524.6" y="377.2" font-size="10" text-anchor="middle" fill="#000" stroke="#000" font-weight="bold">XCP-induced genes (MDA-MB-231 xenograft tumors)</text>
<text x="526.4" y="389.2" font-size="8.7" text-anchor="end" fill="#000" stroke="#000" stroke-width="0.1" font-weight="bold">p &lt; 0.00001</text>
<text x="667.8" y="389.2" font-size="8.7" text-anchor="end" fill="#000" stroke="#000" stroke-width="0.1" font-weight="bold">p &lt; 0.00001</text>
<rect x="375.8" y="392.1" width="150.05" height="146.65" fill="#fff"/>
<line x1="375.8" y1="445.3" x2="525.85" y2="445.3" stroke="#111" stroke-width="1.35" stroke-dasharray="2.55 2.55" stroke-dashoffset="1.9"/>
<line x1="391.7" y1="404" x2="391.7" y2="432.5" stroke="#111" stroke-width="0.95" stroke-dasharray="3.1 3.1"/>
<line x1="391.7" y1="509" x2="391.7" y2="463.3" stroke="#111" stroke-width="0.95" stroke-dasharray="3.1 3.1"/>
<line x1="386.7" y1="404" x2="396.7" y2="404" stroke="#111" stroke-width="1.4"/>
<line x1="386.7" y1="509" x2="396.7" y2="509" stroke="#111" stroke-width="1.4"/>
<rect x="382.35" y="432.5" width="18.7" height="30.8" fill="#ff6600" stroke="#111" stroke-width="1.2"/>
<line x1="382.35" y1="447.3" x2="401.05" y2="447.3" stroke="#111" stroke-width="1.3"/>
<rect x="390.3" y="509" width="2.8" height="22.6" fill="#000" rx="0.9"/>
<line x1="414.9" y1="404" x2="414.9" y2="432.2" stroke="#111" stroke-width="0.95" stroke-dasharray="3.1 3.1"/>
<line x1="414.9" y1="495.8" x2="414.9" y2="458.4" stroke="#111" stroke-width="0.95" stroke-dasharray="3.1 3.1"/>
<line x1="409.9" y1="404" x2="419.9" y2="404" stroke="#111" stroke-width="1.4"/>
<line x1="409.9" y1="495.8" x2="419.9" y2="495.8" stroke="#111" stroke-width="1.4"/>
<rect x="405.55" y="432.2" width="18.7" height="26.2" fill="#ff6600" stroke="#111" stroke-width="1.2"/>
<line x1="405.55" y1="446.5" x2="424.25" y2="446.5" stroke="#111" stroke-width="1.3"/>
<rect x="413.5" y="503.8" width="2.8" height="4.4" fill="#000" rx="0.9"/>
<line x1="438.4" y1="404" x2="438.4" y2="428.6" stroke="#111" stroke-width="0.95" stroke-dasharray="3.1 3.1"/>
<line x1="438.4" y1="487" x2="438.4" y2="452.4" stroke="#111" stroke-width="0.95" stroke-dasharray="3.1 3.1"/>
<line x1="433.4" y1="404" x2="443.4" y2="404" stroke="#111" stroke-width="1.4"/>
<line x1="433.4" y1="487" x2="443.4" y2="487" stroke="#111" stroke-width="1.4"/>
<rect x="429.05" y="428.6" width="18.7" height="23.8" fill="#ff6600" stroke="#111" stroke-width="1.2"/>
<line x1="429.05" y1="438.1" x2="447.75" y2="438.1" stroke="#111" stroke-width="1.3"/>
<rect x="437" y="487" width="2.8" height="10.5" fill="#000" rx="0.9"/>
<rect x="437" y="502" width="2.8" height="11.4" fill="#000" rx="0.9"/>
<line x1="461.8" y1="407.6" x2="461.8" y2="437.2" stroke="#111" stroke-width="0.95" stroke-dasharray="3.1 3.1"/>
<line x1="461.8" y1="505.1" x2="461.8" y2="464.1" stroke="#111" stroke-width="0.95" stroke-dasharray="3.1 3.1"/>
<line x1="456.8" y1="407.6" x2="466.8" y2="407.6" stroke="#111" stroke-width="1.4"/>
<line x1="456.8" y1="505.1" x2="466.8" y2="505.1" stroke="#111" stroke-width="1.4"/>
<rect x="452.45" y="437.2" width="18.7" height="26.9" fill="#ff6600" stroke="#111" stroke-width="1.2"/>
<line x1="452.45" y1="448.9" x2="471.15" y2="448.9" stroke="#111" stroke-width="1.3"/>
<rect x="460.4" y="505.1" width="2.8" height="19.9" fill="#000" rx="0.9"/>
<rect x="460.4" y="532.6" width="2.8" height="4.2" fill="#000" rx="0.9"/>
<line x1="485" y1="402.4" x2="485" y2="421.1" stroke="#111" stroke-width="0.95" stroke-dasharray="3.1 3.1"/>
<line x1="485" y1="475.3" x2="485" y2="442.5" stroke="#111" stroke-width="0.95" stroke-dasharray="3.1 3.1"/>
<line x1="480" y1="402.4" x2="490" y2="402.4" stroke="#111" stroke-width="1.4"/>
<line x1="480" y1="475.3" x2="490" y2="475.3" stroke="#111" stroke-width="1.4"/>
<rect x="475.7" y="421.1" width="18.6" height="21.4" fill="#ff6600" stroke="#111" stroke-width="1.2"/>
<line x1="475.7" y1="431.3" x2="494.3" y2="431.3" stroke="#111" stroke-width="1.3"/>
<rect x="483.6" y="475.3" width="2.8" height="21.2" fill="#000" rx="0.9"/>
<line x1="508.6" y1="396.7" x2="508.6" y2="427.2" stroke="#111" stroke-width="0.95" stroke-dasharray="3.1 3.1"/>
<line x1="508.6" y1="473.2" x2="508.6" y2="448.6" stroke="#111" stroke-width="0.95" stroke-dasharray="3.1 3.1"/>
<line x1="503.6" y1="396.7" x2="513.6" y2="396.7" stroke="#111" stroke-width="1.4"/>
<line x1="503.6" y1="473.2" x2="513.6" y2="473.2" stroke="#111" stroke-width="1.4"/>
<rect x="499.45" y="427.2" width="18.3" height="21.4" fill="#ff6600" stroke="#111" stroke-width="1.2"/>
<line x1="499.45" y1="438.5" x2="517.75" y2="438.5" stroke="#111" stroke-width="1.3"/>
<rect x="507.2" y="481.5" width="2.8" height="6" fill="#000" rx="0.9"/>
<rect x="507.2" y="491" width="2.8" height="6.8" fill="#000" rx="0.9"/>
<line x1="375.8" y1="445.3" x2="525.85" y2="445.3" stroke="#111" stroke-width="1.35" stroke-dasharray="2.55 2.55" stroke-dashoffset="1.9"/>
<rect x="375.8" y="392.1" width="150.05" height="146.65" fill="none" stroke="#111" stroke-width="1.3"/>
<line x1="372.8" y1="408" x2="375.8" y2="408" stroke="#111" stroke-width="1.2"/>
<text x="371.6" y="411.35" font-size="8.7" text-anchor="end" fill="#000" stroke="#000" stroke-width="0.1" font-weight="bold">0.5</text>
<line x1="372.8" y1="444.9" x2="375.8" y2="444.9" stroke="#111" stroke-width="1.2"/>
<text x="371.6" y="448.25" font-size="8.7" text-anchor="end" fill="#000" stroke="#000" stroke-width="0.1" font-weight="bold">0</text>
<line x1="372.8" y1="481.8" x2="375.8" y2="481.8" stroke="#111" stroke-width="1.2"/>
<text x="371.6" y="485.15" font-size="8.7" text-anchor="end" fill="#000" stroke="#000" stroke-width="0.1" font-weight="bold">-0.5</text>
<line x1="372.8" y1="518.7" x2="375.8" y2="518.7" stroke="#111" stroke-width="1.2"/>
<text x="371.6" y="522.05" font-size="8.7" text-anchor="end" fill="#000" stroke="#000" stroke-width="0.1" font-weight="bold">-1.0</text>
<line x1="391.5" y1="538.75" x2="391.5" y2="541.95" stroke="#111" stroke-width="1.1"/>
<text x="395.4" y="545.5" font-size="10" text-anchor="end" fill="#000" stroke="#000" stroke-width="0.12" font-weight="bold" transform="rotate(-90 395.4 545.5)">Basal</text>
<line x1="414.8" y1="538.75" x2="414.8" y2="541.95" stroke="#111" stroke-width="1.1"/>
<text x="418.7" y="545.5" font-size="10" text-anchor="end" fill="#000" stroke="#000" stroke-width="0.12" font-weight="bold" transform="rotate(-90 418.7 545.5)">HER2-enriched</text>
<line x1="438.1" y1="538.75" x2="438.1" y2="541.95" stroke="#111" stroke-width="1.1"/>
<text x="442" y="545.5" font-size="10" text-anchor="end" fill="#000" stroke="#000" stroke-width="0.12" font-weight="bold" transform="rotate(-90 442 545.5)">Luminal A</text>
<line x1="461.4" y1="538.75" x2="461.4" y2="541.95" stroke="#111" stroke-width="1.1"/>
<text x="465.3" y="545.5" font-size="10" text-anchor="end" fill="#000" stroke="#000" stroke-width="0.12" font-weight="bold" transform="rotate(-90 465.3 545.5)">Luminal B</text>
<line x1="484.7" y1="538.75" x2="484.7" y2="541.95" stroke="#111" stroke-width="1.1"/>
<text x="488.6" y="545.5" font-size="10" text-anchor="end" fill="#000" stroke="#000" stroke-width="0.12" font-weight="bold" transform="rotate(-90 488.6 545.5)">Normal-like</text>
<line x1="508" y1="538.75" x2="508" y2="541.95" stroke="#111" stroke-width="1.1"/>
<text x="511.9" y="545.5" font-size="10" text-anchor="end" fill="#000" stroke="#000" stroke-width="0.12" font-weight="bold" transform="rotate(-90 511.9 545.5)">Unclassified</text>
<rect x="529.35" y="392.1" width="12.35" height="146.65" fill="#d9d9d9" stroke="#222" stroke-width="1.1"/>
<text x="532.125" y="465.425" font-size="10" text-anchor="middle" fill="#000" stroke="#000" stroke-width="0.12" font-weight="bold" transform="rotate(90 532.125 465.425)">PAM50 Subtypes</text>
<text x="351.4" y="466.8" font-size="10" text-anchor="middle" fill="#000" stroke="#000" stroke-width="0.12" font-weight="bold" transform="rotate(-90 351.4 466.8)">Log2 Expression</text>
<rect x="564.4" y="392.15" width="104.3" height="146.55" fill="#fff"/>
<line x1="564.4" y1="438.6" x2="668.7" y2="438.6" stroke="#111" stroke-width="1.05" stroke-dasharray="2 2" stroke-dashoffset="0.9"/>
<line x1="592.2" y1="395.5" x2="592.2" y2="429" stroke="#111" stroke-width="0.9" stroke-dasharray="2.5 2.5"/>
<line x1="592.2" y1="497.7" x2="592.2" y2="458.3" stroke="#111" stroke-width="0.9" stroke-dasharray="2.5 2.5"/>
<line x1="587.1" y1="395.5" x2="597.3" y2="395.5" stroke="#111" stroke-width="1.2"/>
<line x1="587.1" y1="497.7" x2="597.3" y2="497.7" stroke="#111" stroke-width="1.2"/>
<rect x="582.55" y="429" width="19.3" height="29.3" fill="#ff6600" stroke="#111" stroke-width="1.1"/>
<line x1="582.55" y1="443.2" x2="601.85" y2="443.2" stroke="#111" stroke-width="1.3"/>
<rect x="590.8" y="500.5" width="2.8" height="14.9" fill="#000" rx="0.9"/>
<rect x="590.8" y="517.6" width="2.8" height="11.4" fill="#000" rx="0.9"/>
<line x1="640.7" y1="395" x2="640.7" y2="422.8" stroke="#111" stroke-width="0.9" stroke-dasharray="2.5 2.5"/>
<line x1="640.7" y1="496.4" x2="640.7" y2="452.6" stroke="#111" stroke-width="0.9" stroke-dasharray="2.5 2.5"/>
<line x1="635.6" y1="395" x2="645.8" y2="395" stroke="#111" stroke-width="1.2"/>
<line x1="635.6" y1="496.4" x2="645.8" y2="496.4" stroke="#111" stroke-width="1.2"/>
<rect x="630.8" y="422.8" width="19.8" height="29.8" fill="#ff6600" stroke="#111" stroke-width="1.1"/>
<line x1="630.8" y1="436.1" x2="650.6" y2="436.1" stroke="#111" stroke-width="1.3"/>
<rect x="639.3" y="496.4" width="2.8" height="19.6" fill="#000" rx="0.9"/>
<rect x="639.3" y="517" width="2.8" height="6.5" fill="#000" rx="0.9"/>
<rect x="639.3" y="530.3" width="2.8" height="4.3" fill="#000" rx="0.9"/>
<line x1="564.4" y1="438.6" x2="668.7" y2="438.6" stroke="#111" stroke-width="1.05" stroke-dasharray="2 2" stroke-dashoffset="0.9"/>
<rect x="564.4" y="392.15" width="104.3" height="146.55" fill="none" stroke="#111" stroke-width="1.3"/>
<line x1="561.4" y1="400" x2="564.4" y2="400" stroke="#111" stroke-width="1.2"/>
<text x="560.2" y="403.35" font-size="8.7" text-anchor="end" fill="#000" stroke="#000" stroke-width="0.1" font-weight="bold">0.5</text>
<line x1="561.4" y1="439.1" x2="564.4" y2="439.1" stroke="#111" stroke-width="1.2"/>
<text x="560.2" y="442.45" font-size="8.7" text-anchor="end" fill="#000" stroke="#000" stroke-width="0.1" font-weight="bold">0</text>
<line x1="561.4" y1="478.2" x2="564.4" y2="478.2" stroke="#111" stroke-width="1.2"/>
<text x="560.2" y="481.55" font-size="8.7" text-anchor="end" fill="#000" stroke="#000" stroke-width="0.1" font-weight="bold">-0.5</text>
<line x1="561.4" y1="517.3" x2="564.4" y2="517.3" stroke="#111" stroke-width="1.2"/>
<text x="560.2" y="520.65" font-size="8.7" text-anchor="end" fill="#000" stroke="#000" stroke-width="0.1" font-weight="bold">-1.0</text>
<line x1="592.4" y1="538.7" x2="592.4" y2="541.9" stroke="#111" stroke-width="1.1"/>
<text x="595.9" y="545.5" font-size="10.4" text-anchor="end" fill="#000" stroke="#000" stroke-width="0.12" font-weight="bold" transform="rotate(-90 595.9 545.5)">ER-</text>
<line x1="640.8" y1="538.7" x2="640.8" y2="541.9" stroke="#111" stroke-width="1.1"/>
<text x="644.3" y="545.5" font-size="10.4" text-anchor="end" fill="#000" stroke="#000" stroke-width="0.12" font-weight="bold" transform="rotate(-90 644.3 545.5)">ER+</text>
<rect x="672.2" y="392.15" width="11.7" height="146.55" fill="#d9d9d9" stroke="#222" stroke-width="1.1"/>
<text x="674.65" y="465.425" font-size="9.8" text-anchor="middle" fill="#000" stroke="#000" stroke-width="0.12" font-weight="bold" transform="rotate(90 674.65 465.425)">ER Status</text></svg>
</body></html>
